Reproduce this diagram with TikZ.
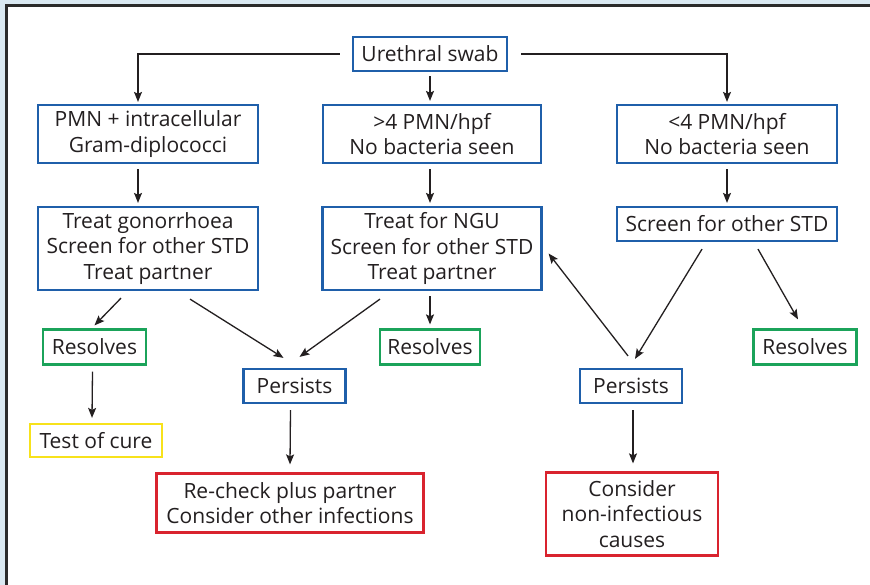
\documentclass[tikz,border=0pt]{standalone}
\usepackage{fontspec}
\setmainfont{Open Sans}
\usetikzlibrary{arrows.meta,calc}
\definecolor{bgblue}{HTML}{DAE9F2}
\definecolor{frame}{HTML}{2B2B2B}
\definecolor{bblue}{HTML}{1F5FAA}
\definecolor{bgreen}{HTML}{1BA35A}
\definecolor{byellow}{HTML}{F7E21B}
\definecolor{bred}{HTML}{D9232E}
\definecolor{ink}{HTML}{231F20}
\tikzset{
  box/.style={draw, line width=2.2pt, fill=white, inner sep=0pt, align=center,
    text=ink, font=\fontsize{21}{25.5}\selectfont},
  bluebox/.style={box, draw=bblue},
  greenbox/.style={box, draw=bgreen},
  yellowbox/.style={box, draw=byellow},
  redbox/.style={box, draw=bred},
  arr/.style={draw=ink, line width=1.3pt, -{Stealth[length=10pt,width=8pt,inset=2pt]}},
}
\begin{document}
\begin{tikzpicture}[x=1pt,y=-1pt]
\path[use as bounding box] (0,0) rectangle (870,585);
\fill[bgblue] (0,0) rectangle (870,585);
\begin{scope}
\clip (0,0) rectangle (870,585);
\draw[frame, line width=3pt, fill=white] (6.5,5.5) rectangle (880,600);
\end{scope}

% row 0
\node[bluebox, minimum width=154pt, minimum height=34pt] (swab) at (430,54) {Urethral swab};
% row 1
\node[bluebox, minimum width=220pt, minimum height=58pt] (A) at (148,134) {PMN + intracellular\\Gram-diplococci};
\node[bluebox, minimum width=218pt, minimum height=58pt] (B) at (432,134) {>4 PMN/hpf\\No bacteria seen};
\node[bluebox, minimum width=220pt, minimum height=58pt] (C) at (727,134) {<4 PMN/hpf\\No bacteria seen};
% row 2
\node[bluebox, minimum width=220pt, minimum height=83pt] (TG) at (148,248.5) {Treat gonorrhoea\\Screen for other STD\\Treat partner};
\node[bluebox, minimum width=219pt, minimum height=83pt] (NGU) at (432,248.5) {Treat for NGU\\Screen for other STD\\Treat partner};
\node[bluebox, minimum width=220pt, minimum height=34pt] (SC) at (727,224) {Screen for other STD};
% row 3
\node[greenbox, minimum width=103pt, minimum height=35pt] (R1) at (94.5,347) {Resolves};
\node[greenbox, minimum width=100pt, minimum height=35pt] (R2) at (430,347) {Resolves};
\node[greenbox, minimum width=103pt, minimum height=35pt] (R3) at (805,347) {Resolves};
\node[bluebox, minimum width=102pt, minimum height=34pt] (P1) at (294.5,386) {Persists};
\node[bluebox, minimum width=102pt, minimum height=34pt] (P2) at (631,386) {Persists};
% row 4
\node[yellowbox, minimum width=132pt, minimum height=33pt] (TC) at (96,440.5) {Test of cure};
\node[redbox, minimum width=267pt, minimum height=59pt] (RC) at (290,503) {Re-check plus partner\\Consider other infections};
\node[redbox, minimum width=172pt, minimum height=83pt] (CN) at (632,514) {Consider\\non-infectious\\causes};

% connectors from swab
\draw[arr] ($(swab.west)+(-12,0)$) -| ($(A.north)+(-10,-2)$);
\draw[arr] ($(swab.east)+(13,0)$) -| ($(C.north)+(0,-2)$);
\draw[arr] ($(swab.south)+(0,4)$) -- ($(B.north)+(-2,-3)$);
% row1 -> row2
\draw[arr] ($(A.south)+(-10,5)$) -- ($(TG.north)+(-10,-3)$);
\draw[arr] ($(B.south)+(-2,5)$) -- ($(NGU.north)+(-2,-3)$);
\draw[arr] ($(C.south)+(0,5)$) -- ($(SC.north)+(0,-3)$);
% row2 -> row3
\draw[arr] ($(TG.south)+(-27,7)$) -- ($(R1.north)+(0,-3)$);
\draw[arr] ($(TG.south)+(42,8)$) -- ($(P1.north)+(-11,-10)$);
\draw[arr] ($(NGU.south)+(-52,8)$) -- ($(P1.north)+(5,-11)$);
\draw[arr] ($(NGU.south)+(-2,5)$) -- ($(R2.north)+(0,-4)$);
\draw[arr] ($(SC.south)+(-25,7)$) -- ($(P2.north)+(4,-9)$);
\draw[arr] ($(SC.south)+(31,7)$) -- ($(R3.north)+(-7,-9)$);
\draw[arr] ($(P2.north)+(-3,-12)$) -- ($(NGU.east)+(6,5)$);
% row3 -> row4
\draw[arr] ($(R1.south)+(-2,6)$) -- ($(TC.north)+(-4,-5)$);
\draw[arr] ($(P1.south)+(-4,6)$) -- ($(RC.north)+(0,-8)$);
\draw[arr] ($(P2.south)+(2,6)$) -- ($(CN.north)+(1,-8)$);
\end{tikzpicture}
\end{document}
